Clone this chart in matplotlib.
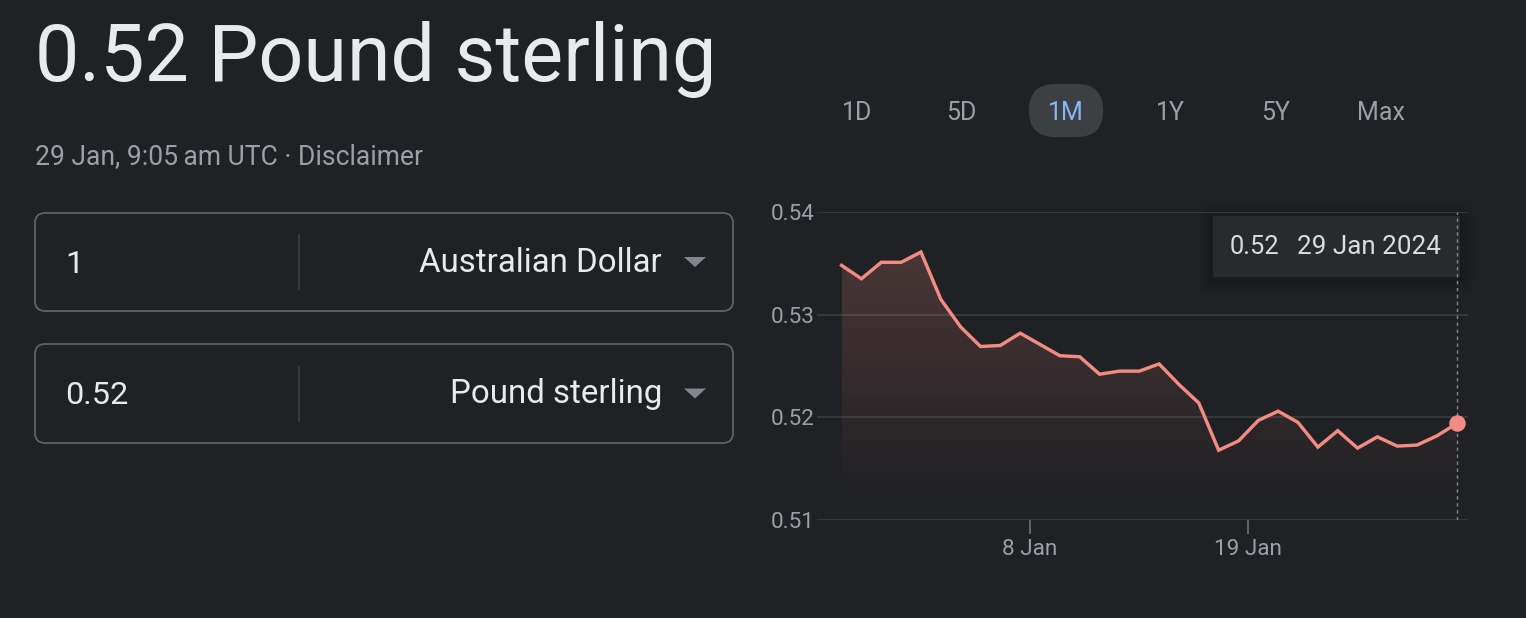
import matplotlib
matplotlib.use("Agg")
import matplotlib.pyplot as plt
import matplotlib.dates as mdates
from matplotlib.patches import FancyBboxPatch, Polygon
import numpy as np
import pandas as pd

# ---------------- data ----------------
title_text = "0.52 Pound sterling"
subtitle_text = "29 Jan, 9:05\u2009am UTC \u00b7 Disclaimer"
from_amount = "1"
from_currency = "Australian Dollar"
to_amount = "0.52"
to_currency = "Pound sterling"
range_buttons = ["1D", "5D", "1M", "1Y", "5Y", "Max"]
active_button = "1M"
dates = pd.date_range("2023-12-29 12:30", periods=32, freq="D")
rates = [0.5348, 0.5335, 0.5351, 0.5351, 0.5361, 0.5315, 0.5288, 0.5269,
         0.5270, 0.5282, 0.5271, 0.5260, 0.5259, 0.5242, 0.5245, 0.5245,
         0.5252, 0.5232, 0.5214, 0.5168, 0.5177, 0.5197, 0.5206, 0.5195,
         0.5171, 0.5187, 0.5170, 0.5181, 0.5172, 0.5173, 0.5182, 0.5194]
y_ticks = [0.51, 0.52, 0.53, 0.54]
x_tick_dates = [pd.Timestamp("2024-01-08"), pd.Timestamp("2024-01-19")]
x_tick_labels = ["8 Jan", "19 Jan"]
tooltip_value = "0.52"
tooltip_date = "29 Jan 2024"

# ---------------- style ----------------
BG = "#202124"
TXT = "#e8eaed"
GREY = "#9aa0a6"
GRID = "#3c4043"
LINE = "#f28b82"
FONT = "Roboto"
plt.rcParams["font.family"] = [FONT, "DejaVu Sans"]

W, H = 1526, 618
fig = plt.figure(figsize=(W / 100, H / 100), dpi=100, facecolor=BG)

# background axes in pixel coordinates
bg = fig.add_axes([0, 0, 1, 1])
bg.set_xlim(0, W)
bg.set_ylim(H, 0)
bg.axis("off")
bg.set_facecolor(BG)

def pt(px):
    return px * 72 / 100

# title & subtitle
bg.text(35, 81, title_text, fontsize=pt(79), color=TXT, va="baseline", ha="left")
bg.text(35, 164, subtitle_text, fontsize=pt(26.5), color=GREY, va="baseline", ha="left")

# converter boxes
boxes = [(213, 311, from_amount, from_currency), (344, 443, to_amount, to_currency)]
for (y0, y1, amt, cur) in boxes:
    r = 10
    box = FancyBboxPatch((35 + r, y0 + r), 733 - 35 - 2 * r, y1 - y0 - 2 * r,
                         boxstyle=f"round,pad={r}", fc=BG, ec="#5f6368", lw=1.3)
    bg.add_patch(box)
    yc = (y0 + y1) / 2
    bg.plot([299, 299], [yc - 27, yc + 27], color="#3c4043", lw=1.3)
    bg.text(65, yc + 11, amt, fontsize=pt(32.5), color=TXT, va="baseline", ha="left")
    bg.text(662, yc + 10, cur, fontsize=pt(33), color=TXT, va="baseline", ha="right")
    tri = Polygon([[684, yc - 5], [706, yc - 5], [695, yc + 5]], closed=True,
                  fc="#80868b", ec="none")
    bg.add_patch(tri)

# range buttons
btn_x = [857, 961, 1066, 1170, 1276, 1381]
for bx, lab in zip(btn_x, range_buttons):
    if lab == active_button:
        pill = FancyBboxPatch((bx - 37 + 26, 84 + 26), 74 - 52, 53 - 52,
                              boxstyle="round,pad=26", fc="#3c4043", ec="none")
        bg.add_patch(pill)
        col = "#8ab4f8"
    else:
        col = GREY
    bg.text(bx, 111, lab, fontsize=pt(25), color=col, va="center_baseline", ha="center")

# ---------------- chart axes ----------------
L, R, T, B = 817, 1468, 212, 520
ax = fig.add_axes([L / W, (H - B) / H, (R - L) / W, (B - T) / H])
ax.set_facecolor("none")
for s in ax.spines.values():
    s.set_visible(False)

x = mdates.date2num(dates)
y = np.array(rates)
t8 = mdates.date2num(x_tick_dates[0])
t19 = mdates.date2num(x_tick_dates[1])
ppd = (1248 - 1029.7) / (t19 - t8)
xmin = t8 - (1029.7 - L) / ppd
xmax = t19 + (R - 1248) / ppd

# gradient fill under the line
fill = ax.fill_between(x, y, y_ticks[0], color="none", lw=0)
n = 256
alpha = np.clip((np.linspace(0.5361, 0.51, n) - 0.5125) / (0.5361 - 0.5125), 0, 1) * 0.2
rgba = np.zeros((n, 1, 4))
rgba[..., 0] = 0xf2 / 255
rgba[..., 1] = 0x8b / 255
rgba[..., 2] = 0x82 / 255
rgba[:, 0, 3] = alpha
im = ax.imshow(rgba, extent=[x[0], x[-1], 0.51, 0.5361], aspect="auto",
               origin="upper", zorder=1, interpolation="bilinear")
im.set_clip_path(fill.get_paths()[0], transform=ax.transData)

for yt in y_ticks:
    ax.axhline(yt, color=GRID, lw=1.1, zorder=0.5)

ax.plot(x, y, color=LINE, lw=pt(3.4), zorder=3, solid_joinstyle="miter")
ax.plot([x[-1], x[-1]], [y_ticks[0], y_ticks[-1]], color="#80868b", lw=1.0,
        ls=(0, (2.5, 2.5)), zorder=2)
ax.plot(x[-1], y[-1], "o", ms=pt(16.5), color=LINE, mec="none", zorder=4, clip_on=False)

ax.set_xlim(xmin, xmax)
ax.set_ylim(y_ticks[0], y_ticks[-1])
ax.set_yticks(y_ticks)
ax.set_yticklabels([f"{v:.2f}" for v in y_ticks])
ax.set_xticks([t8, t19])
ax.set_xticklabels(x_tick_labels)
ax.tick_params(axis="y", length=0, pad=pt(2), labelsize=pt(22.5), labelcolor=GREY)
ax.tick_params(axis="x", length=pt(14), width=pt(2), color="#5f6368", pad=pt(5),
               labelsize=pt(22.5), labelcolor=GREY, direction="out")

# tooltip
tx0, tx1, ty0, ty1 = 1213, 1460, 216, 277
for k, a in [(14, 0.03), (9, 0.04), (5, 0.05)]:
    sh = FancyBboxPatch((tx0, ty0 + 2), tx1 - tx0, ty1 - ty0,
                        boxstyle=f"round,pad={k}", fc="black", ec="none", alpha=a)
    bg.add_patch(sh)
tip = FancyBboxPatch((tx0, ty0), tx1 - tx0, ty1 - ty0, boxstyle="square,pad=0",
                     fc="#292a2d", ec="none")
bg.add_patch(tip)
bg.text(1230, 254, tooltip_value, fontsize=pt(25.5), color="#dadce0", va="baseline", ha="left")
bg.text(1297, 254, tooltip_date, fontsize=pt(26), color="#dadce0", va="baseline", ha="left")

fig.savefig("out.png", dpi=100, facecolor=BG)
